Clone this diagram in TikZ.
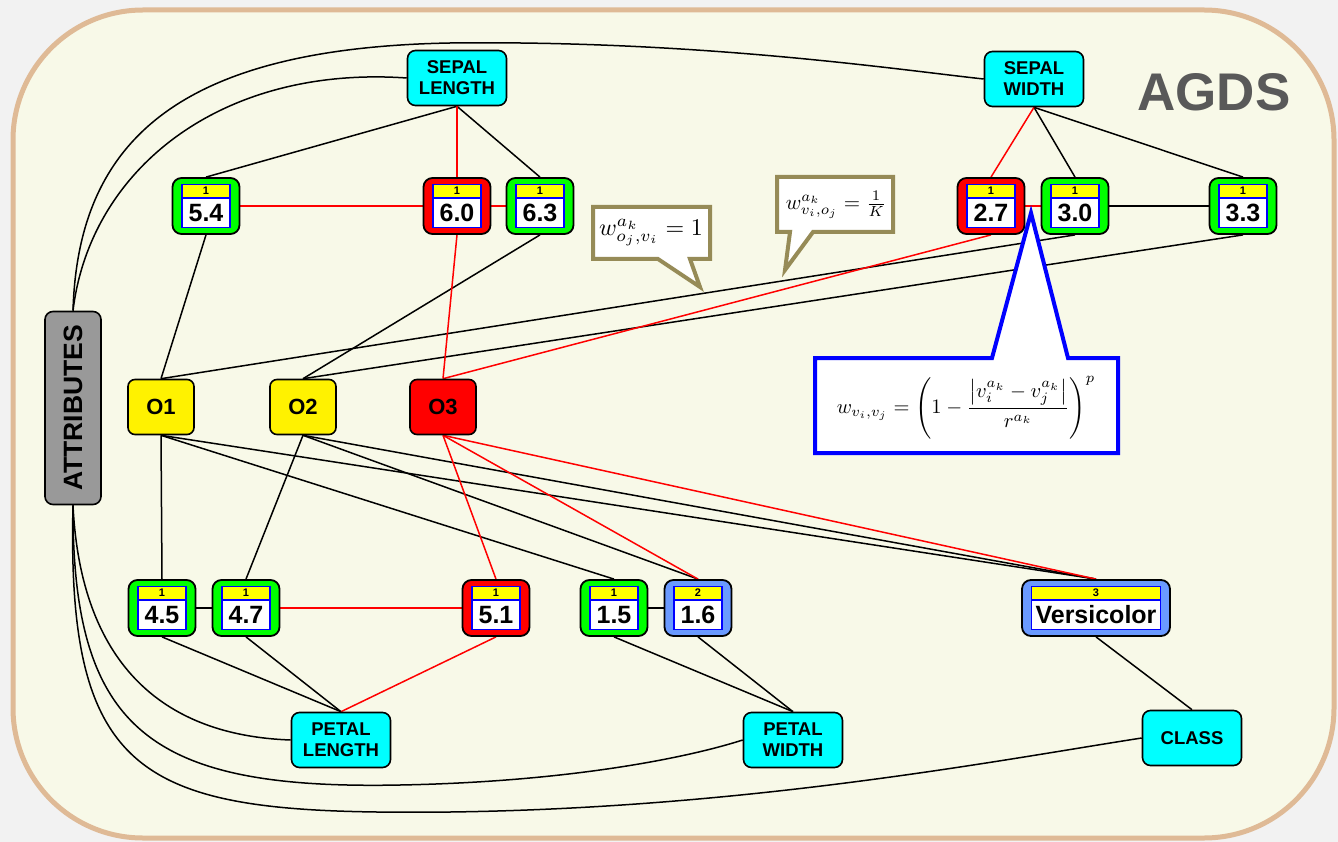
\documentclass[tikz,border=0pt]{standalone}
\usepackage{amsmath}
\usepackage{graphicx}
\usepackage{fontspec}
\setmainfont{Liberation Sans}
\usetikzlibrary{calc}
\definecolor{pagegray}{HTML}{F2F2F2}
\definecolor{framefill}{HTML}{F8F9E8}
\definecolor{frametan}{HTML}{DFBA96}
\definecolor{nodegreen}{HTML}{00FF00}
\definecolor{nodered}{HTML}{FF0000}
\definecolor{nodeblue}{HTML}{6A9AFF}
\definecolor{attrcyan}{HTML}{00FFFF}
\definecolor{cntyellow}{HTML}{FFFF00}
\definecolor{attrgray}{HTML}{999999}
\definecolor{notebrown}{HTML}{968B57}
\definecolor{titlegray}{HTML}{595959}
\pgfdeclarelayer{frame}
\pgfdeclarelayer{edges}
\pgfsetlayers{frame,edges,main}
\tikzset{
  % attribute (feature) nodes
  attrbox/.style={
    rectangle, rounded corners=8pt, draw=black, line width=1.6pt,
    fill=attrcyan, minimum width=99pt, minimum height=55pt, inner sep=0pt,
    align=center, font=\fontsize{18.5}{21}\selectfont\bfseries,
  },
  % object nodes
  objbox/.style={
    rectangle, rounded corners=7pt, draw=black, line width=1.6pt,
    minimum width=66pt, minimum height=55pt,
    font=\fontsize{22}{22}\selectfont\bfseries,
  },
  % value nodes: outer box, value field, counter field
  valbox/.style={
    rectangle, rounded corners=9pt, draw=black, line width=1.8pt,
    minimum height=56pt,
  },
  numbox/.style={
    rectangle, draw=blue, fill=white, line width=1.2pt, minimum height=29pt,
    inner sep=0pt, font=\fontsize{25}{25}\selectfont\bfseries,
  },
  cntbox/.style={
    rectangle, draw=blue, fill=cntyellow, line width=1.2pt, minimum height=13pt,
    inner sep=0pt, font=\fontsize{11}{11}\selectfont\bfseries,
  },
  % connections
  link/.style={draw=black, line width=1.5pt},
  hot/.style={draw=nodered, line width=1.5pt},
  % speech bubbles
  note/.style={draw=notebrown, fill=white, line width=4pt},
  mathnote/.style={inner sep=0pt},
}
% value node: [outer width]{name}{position}{fill}{count}{value}
\newcommand{\valnode}[6][67]{%
  \pgfmathsetmacro{\innerw}{#1-19}%
  \node[valbox, fill=#4, minimum width=#1] (#2) at (#3) {};
  \node[numbox, minimum width=\innerw] (#2-v) at ($(#2.center)+(0,7)$) {#6};
  \node[cntbox, minimum width=\innerw, anchor=south] (#2-c) at (#2-v.north) {#5};
}

\begin{document}
\begin{tikzpicture}[x=1pt, y=-1pt]
  % frame
  \begin{pgfonlayer}{frame}
    \fill[pagegray] (0,0) rectangle (1338,842);
    \draw[line width=5pt, draw=frametan, fill=framefill, rounded corners=130pt]
      (13,10) rectangle (1334,838);
  \end{pgfonlayer}

  \node[font=\fontsize{53}{53}\selectfont\bfseries, text=titlegray] (title) at (1214,92) {AGDS};

  % attributes
  \node[attrbox] (sl) at (457,78) {SEPAL\\LENGTH};
  \node[attrbox] (sw) at (1034,79) {SEPAL\\WIDTH};
  \node[attrbox] (pl) at (341,740) {PETAL\\LENGTH};
  \node[attrbox] (pw) at (793,740) {PETAL\\WIDTH};
  \node[attrbox] (cls) at (1192,738) {CLASS};
  \node[rectangle, rounded corners=8pt, draw=black, line width=1.6pt, fill=attrgray,
        rotate=90, minimum width=193pt, minimum height=56pt, inner sep=0pt,
        font=\fontsize{26.5}{26.5}\selectfont\bfseries] (attr) at (73,408) {ATTRIBUTES};

  % objects
  \node[objbox, fill=yellow] (o1) at (161,407) {O1};
  \node[objbox, fill=yellow] (o2) at (303,407) {O2};
  \node[objbox, fill=nodered] (o3) at (443,407) {O3};

  % values
  \valnode{v54}{206,206}{nodegreen}{1}{5.4}
  \valnode{v60}{457,206}{nodered}{1}{6.0}
  \valnode{v63}{540,206}{nodegreen}{1}{6.3}
  \valnode{v27}{991,206}{nodered}{1}{2.7}
  \valnode{v30}{1075,206}{nodegreen}{1}{3.0}
  \valnode{v33}{1243,206}{nodegreen}{1}{3.3}
  \valnode{v45}{162,608}{nodegreen}{1}{4.5}
  \valnode{v47}{246,608}{nodegreen}{1}{4.7}
  \valnode{v51}{496,608}{nodered}{1}{5.1}
  \valnode{v15}{614,608}{nodegreen}{1}{1.5}
  \valnode{v16}{698,608}{nodeblue}{2}{1.6}
  \valnode[148]{vvers}{1096,608}{nodeblue}{3}{Versicolor}

  \begin{pgfonlayer}{edges}
    \foreach \a/\b in {sl.south/v54.north, sl.south/v63.north,
        sw.south/v30.north, sw.south/v33.north, v30.east/v33.west,
        v54.south/o1.north, v63.south/o2.north, v30.south/o1.north,
        v33.south/o2.north, o1.south/v45.north, o1.south/v15.north,
        o1.south/vvers.north, o2.south/v47.north, o2.south/v16.north,
        o2.south/vvers.north, v45.east/v47.west, v15.east/v16.west,
        v45.south/pl.north, v47.south/pl.north, v15.south/pw.north,
        v16.south/pw.north, vvers.south/cls.north}
      \draw[link] (\a) -- (\b);
    % edges of O3
    \foreach \a/\b in {sl.south/v60.north, v54.east/v60.west,
        v60.east/v63.west, v60.south/o3.north, sw.south/v27.north,
        v27.east/v30.west, v27.south/o3.north, o3.south/v51.north,
        o3.south/v16.north, o3.south/vvers.north, v47.east/v51.west,
        v51.south/pl.north}
      \draw[hot] (\a) -- (\b);
    % attribute links
    \draw[link] (attr.east) .. controls (90,170) and (220,65) .. (sl.west);
    \draw[link] (attr.east) .. controls (78,140) and (180,48) .. (450,43)
      .. controls (700,40) and (900,70) .. (sw.west);
    \draw[link] (attr.west) .. controls (80,650) and (150,735) .. (pl.west);
    \draw[link] (attr.west) .. controls (72,730) and (150,790) .. (400,785)
      .. controls (560,782) and (680,760) .. (pw.west);
    \draw[link] (attr.west) .. controls (66,790) and (150,815) .. (450,812)
      .. controls (750,808) and (1000,760) .. (cls.west);
  \end{pgfonlayer}

  % weights
  \draw[note] (593,207) -- (710,207) -- (710,259) -- (690,259) -- (700,287)
    -- (658,259) -- (593,259) -- cycle;
  \node[mathnote] (wov) at (651,233) {\scalebox{2.4}{$w^{a_k}_{o_j,v_i}=1$}};
  \draw[note] (777,177) -- (893,177) -- (893,232) -- (813,232) -- (785,270)
    -- (790,232) -- (777,232) -- cycle;
  \node[mathnote] (wvo) at (836,205) {\scalebox{2.1}{$w^{a_k}_{v_i,o_j}=\frac{1}{K}$}};
  \draw[note, draw=blue] (815,358) -- (992,358) -- (1031,213) -- (1068,358)
    -- (1118,358) -- (1118,453) -- (815,453) -- cycle;
  \node[mathnote] (wvv) at (966,408)
    {\scalebox{2.05}{$w_{v_i,v_j}=\Biggl(1-\dfrac{\left|v_i^{a_k}-v_j^{a_k}\right|}{r^{a_k}}\Biggr)^{p}$}};
\end{tikzpicture}
\end{document}
